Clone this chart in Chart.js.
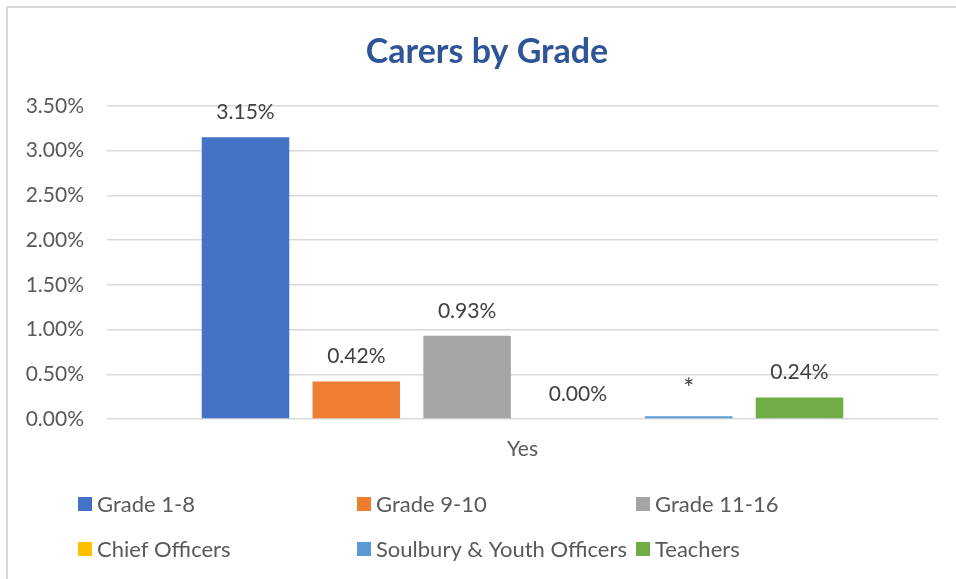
<!DOCTYPE html>
<html>
<head>
<meta charset="utf-8">
<script src="https://cdn.jsdelivr.net/npm/chart.js@4/dist/chart.umd.min.js"></script>
<style>
    html, body { margin: 0; padding: 0; background: #fff; }
    #wrap { width: 956px; height: 579px; }
</style>
</head>
<body>
<div id="wrap"><canvas id="chart" width="956" height="579"></canvas></div>
<script>
const categories = ['Yes'];
const seriesNames = ['Grade 1-8', 'Grade 9-10', 'Grade 11-16', 'Chief Officers', 'Soulbury & Youth Officers', 'Teachers'];
const seriesValues = [3.15, 0.42, 0.93, 0.00, 0.03, 0.24];
const valueLabels = ['3.15%', '0.42%', '0.93%', '0.00%', '*', '0.24%'];
const seriesColors = ['#4472C4', '#ED7D31', '#A5A5A5', '#FFC000', '#5B9BD5', '#70AD47'];
const yTicks = [0, 0.5, 1, 1.5, 2, 2.5, 3, 3.5];

const FONT = 'Lato, "Open Sans", sans-serif';
const TEXT = '#595959';

// frame around the chart, like the office export
const framePlugin = {
    id: 'frame',
    beforeDraw(chart) {
        const ctx = chart.ctx;
        ctx.save();
        ctx.strokeStyle = '#d9d9d9';
        ctx.lineWidth = 2;
        ctx.beginPath();
        ctx.moveTo(7, chart.height);
        ctx.lineTo(7, 7);
        ctx.lineTo(chart.width, 7);
        ctx.stroke();
        ctx.restore();
    }
};

// title is centred on the whole frame, not the padded box
const titleShiftPlugin = {
    id: 'titleShift',
    afterLayout(chart) {
        const t = chart.titleBlock;
        if (!t) return;
        t.left += 14;
        t.right += 14;
    }
};

// value labels above each bar
const valueLabelPlugin = {
    id: 'valueLabels',
    afterDatasetsDraw(chart) {
        const ctx = chart.ctx;
        ctx.save();
        ctx.fillStyle = '#404040';
        ctx.textAlign = 'center';
        ctx.textBaseline = 'middle';
        chart.data.datasets.forEach((ds, i) => {
            const meta = chart.getDatasetMeta(i);
            const txt = valueLabels[i];
            ctx.font = txt === '*' ? `26px ${FONT}` : `21px ${FONT}`;
            meta.data.forEach(bar => {
                ctx.fillText(txt, bar.x, bar.y - (txt === '*' ? 27 : 25));
            });
        });
        ctx.restore();
    }
};

// legend in a 3 column grid at the bottom
const gridLegendPlugin = {
    id: 'gridLegend',
    afterDraw(chart) {
        const ctx = chart.ctx;
        const cols = [78, 357, 636];
        const rows = [504, 549];
        ctx.save();
        ctx.font = `22px ${FONT}`;
        ctx.textBaseline = 'middle';
        ctx.textAlign = 'left';
        seriesNames.forEach((name, i) => {
            const x = cols[i % 3];
            const y = rows[Math.floor(i / 3)];
            ctx.fillStyle = seriesColors[i];
            ctx.fillRect(x, y - 7, 14, 14);
            ctx.fillStyle = TEXT;
            ctx.fillText(name, x + 19, y + 1);
        });
        ctx.restore();
    }
};

const datasets = seriesNames.map((name, i) => ({
    label: name,
    data: [seriesValues[i]],
    backgroundColor: seriesColors[i],
    borderWidth: 0
}));

new Chart(document.getElementById('chart'), {
    type: 'bar',
    data: { labels: categories, datasets },
    options: {
        responsive: false,
        animation: false,
        devicePixelRatio: 1,
        categoryPercentage: 0.8,
        barPercentage: 0.79,
        layout: { padding: { top: 8, left: 8, right: 18, bottom: 100 } },
        plugins: {
            legend: { display: false },
            tooltip: { enabled: false },
            title: {
                display: true,
                text: 'Carers by Grade',
                color: '#2F5597',
                font: { family: FONT, size: 34, weight: 'bold' },
                padding: { top: 24, bottom: 33.2 }
            }
        },
        scales: {
            x: {
                grid: { display: false },
                border: { display: false },
                ticks: { color: TEXT, font: { family: FONT, size: 21 }, padding: 10 },
                afterFit(scale) { scale.height = 60; }
            },
            y: {
                min: 0,
                max: 3.5,
                afterBuildTicks(scale) { scale.ticks = yTicks.map(v => ({ value: v })); },
                grid: { color: '#d9d9d9', lineWidth: 1.5, drawTicks: false },
                border: { display: false },
                ticks: {
                    color: TEXT,
                    font: { family: FONT, size: 21 },
                    padding: 23,
                    callback: v => v.toFixed(2) + '%'
                },
                afterFit(scale) { scale.width = 99; }
            }
        }
    },
    plugins: [framePlugin, titleShiftPlugin, valueLabelPlugin, gridLegendPlugin]
});
</script>
</body>
</html>
